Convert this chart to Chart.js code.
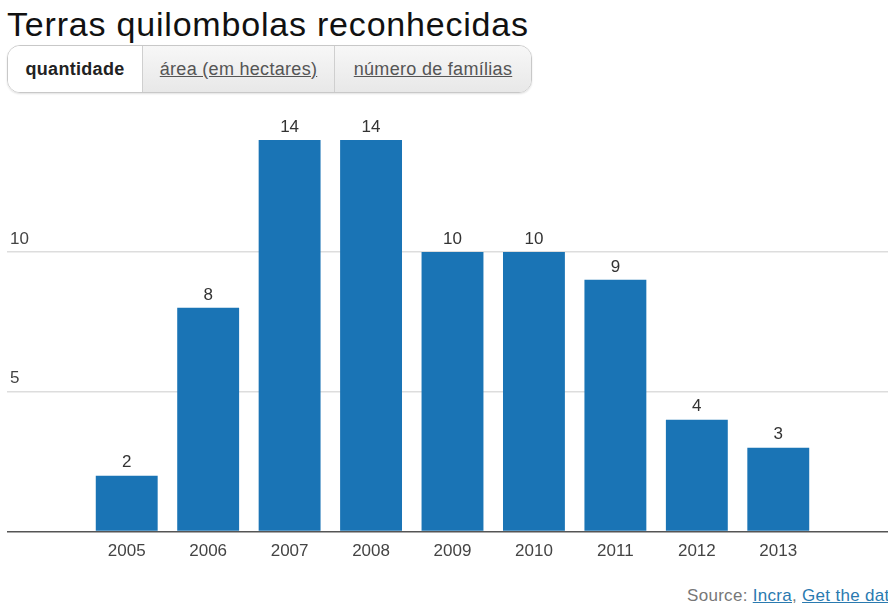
<!DOCTYPE html>
<html><head><meta charset="utf-8">
<script src="https://cdn.jsdelivr.net/npm/chart.js@4.4.0/dist/chart.umd.min.js"></script>
<style>
html,body{margin:0;padding:0;background:#fff;width:888px;height:606px;overflow:hidden;font-family:"Liberation Sans",Arial,sans-serif;}
#title{position:absolute;left:7px;top:4px;font-size:34px;line-height:40px;color:#111;white-space:nowrap;letter-spacing:0.8px;}
#tabs{position:absolute;left:7px;top:45px;height:46px;display:flex;border:1px solid #c8c8c8;border-radius:13px;overflow:hidden;box-shadow:0 1px 2px rgba(0,0,0,0.12);}
#tabs div{display:flex;align-items:center;justify-content:center;font-size:18px;letter-spacing:0.3px;color:#555;text-decoration:underline;background:linear-gradient(#f7f7f7,#e8e8e8);border-left:1px solid #cfcfcf;}
#tabs div.active{background:#fff;color:#222;font-weight:bold;text-decoration:none;border-left:none;}
#wrap{position:absolute;left:0;top:100px;width:888px;height:482px;}
#src{position:absolute;left:687px;top:586px;font-size:17px;letter-spacing:0.3px;color:#777;white-space:nowrap;}
#src a{color:#2a7ab0;text-decoration:underline;}
</style></head>
<body>
<div id="title">Terras quilombolas reconhecidas</div>
<div id="tabs">
  <div class="active" style="width:134px">quantidade</div>
  <div style="width:191px">área (em hectares)</div>
  <div style="width:196px">número de famílias</div>
</div>
<div id="wrap"><canvas id="c"></canvas></div>
<div id="src">Source: <a>Incra</a>, <a>Get the data</a></div>
<script>
const categories = ["2005","2006","2007","2008","2009","2010","2011","2012","2013"];
const values = [2, 8, 14, 14, 10, 10, 9, 4, 3];
const yTicks = [0, 5, 10];

const FONT = '"Liberation Sans", Arial, sans-serif';
const gridColor = ctx => (ctx.tick && ctx.tick.value === 0) ? '#555555' : '#dddddd';
const keepTicks = scale => { scale.ticks = yTicks.map(v => ({value: v})); };

const valueLabels = {
  id: 'valueLabels',
  afterDatasetsDraw(chart) {
    const ctx = chart.ctx;
    const meta = chart.getDatasetMeta(0);
    ctx.save();
    ctx.font = '17px ' + FONT;
    ctx.fillStyle = '#333';
    ctx.textAlign = 'center';
    ctx.textBaseline = 'middle';
    meta.data.forEach((bar, i) => {
      ctx.fillText(String(chart.data.datasets[0].data[i]), bar.x, bar.y - 13);
    });
    ctx.restore();
  }
};

new Chart(document.getElementById('c'), {
  type: 'bar',
  data: {
    labels: categories,
    datasets: [{
      data: values,
      backgroundColor: '#1a74b5',
      borderWidth: 0,
      categoryPercentage: 1,
      barPercentage: 0.76
    }]
  },
  options: {
    responsive: true,
    maintainAspectRatio: false,
    animation: false,
    layout: { padding: { left: 10, right: 0, top: 40, bottom: 10 } },
    plugins: { legend: { display: false }, tooltip: { enabled: false } },
    scales: {
      x: {
        grid: { display: false, drawTicks: false },
        border: { display: false },
        ticks: { color: '#444', font: { size: 17, family: FONT }, padding: 10 }
      },
      y: {
        position: 'left',
        min: 0, max: 14,
        afterBuildTicks: keepTicks,
        afterFit(scale) { scale.width = 76; },
        border: { display: false },
        grid: { color: gridColor, lineWidth: 1.5, drawTicks: true, tickLength: 79 },
        ticks: { crossAlign: 'far', labelOffset: -13, padding: 0, color: '#444',
                 font: { size: 17, family: FONT },
                 callback: v => v === 0 ? '' : String(v) }
      },
      y2: {
        position: 'right',
        min: 0, max: 14,
        afterBuildTicks: keepTicks,
        afterFit(scale) { scale.width = 69; },
        border: { display: false },
        grid: { color: gridColor, lineWidth: 1.5, drawOnChartArea: false, drawTicks: true, tickLength: 69 },
        ticks: { display: false }
      }
    }
  },
  plugins: [valueLabels]
});
</script>
</body></html>
